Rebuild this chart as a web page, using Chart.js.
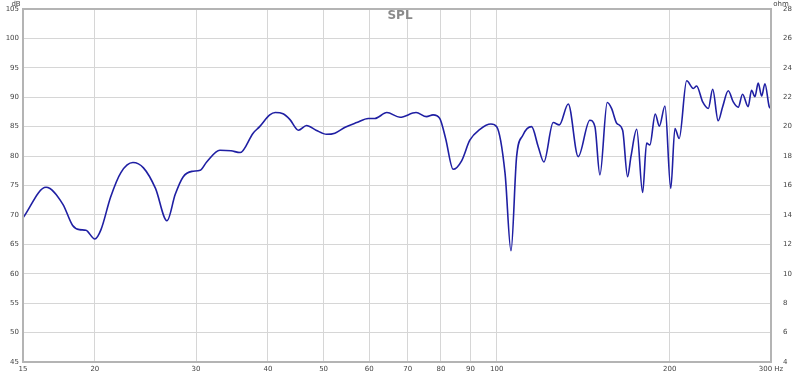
<!DOCTYPE html>
<html>
<head>
<meta charset="utf-8">
<title>SPL</title>
<script src="https://cdn.jsdelivr.net/npm/chart.js@4.4.1/dist/chart.umd.min.js"></script>
<style>
    body { margin: 0; background: #ffffff; }
    #wrap { width: 800px; height: 375px; position: relative; }
</style>
</head>
<body>
<div id="wrap"><canvas id="splChart"></canvas></div>
<script>
// Frequency points (Hz)
const freqs = [
    15, 16.45, 17.6, 18.3, 18.8, 19.3, 20.0, 20.5, 21.3, 22.2,
    23.3, 24.3, 25.5, 26.7, 27.6, 28.5, 29.5, 30.5, 31.3, 33.0,
    34.5, 35.8, 37.7, 38.7, 40.3, 41.2, 42.5, 43.7, 45.2, 46.7,
    48.5, 50.6, 52.3, 54.5, 57.1, 59.8, 61.4, 64.4, 67.9, 72.4,
    75.5, 77.5, 79.6, 81.5, 84.0, 86.9, 89.8, 93.5, 97.7, 100,
    103.4, 105.9, 108.3, 111, 115, 118.1, 120.8, 125.4, 128.5, 133.2,
    138.6, 145.2, 148.2, 151.2, 155.7, 158.4, 161.7, 165.6, 168.9, 171.2,
    175.2, 179.4, 182.3, 184.7, 188.7, 191.8, 196.2, 200.8, 204.2, 207.7,
    214, 219.8, 222.7, 228.2, 233.4, 237.5, 242.8, 247.2, 252.8, 257.9,
    263.1, 267.7, 273.8, 277.5, 281.3, 285, 289, 292.8, 297.9, 300
];

// SPL values (dB) matching freqs
const splValues = [
    69.5, 74.7, 71.8, 68.2, 67.5, 67.4, 65.9, 67.5, 73.0, 77.2,
    78.9, 78.0, 74.5, 69.0, 73.5, 76.5, 77.4, 77.6, 79.0, 81.0,
    80.9, 80.6, 83.9, 85.0, 87.0, 87.4, 87.2, 86.2, 84.4, 85.2,
    84.4, 83.7, 83.9, 84.9, 85.7, 86.4, 86.4, 87.4, 86.6, 87.4,
    86.7, 87.0, 86.4, 83.0, 77.75, 79.2, 82.7, 84.55, 85.45, 85.0,
    77.1, 63.9, 79.9, 83.5, 85.0, 81.6, 79.0, 85.7, 85.3, 88.85,
    79.9, 86.1, 85.0, 76.8, 89.1, 88.1, 85.6, 84.4, 76.5, 79.9,
    84.55, 73.8, 82.2, 81.9, 87.15, 85.1, 88.5, 74.5, 84.7, 83.0,
    92.8, 91.5, 91.9, 89.2, 88.1, 91.35, 86.0, 88.4, 91.1, 89.2,
    88.3, 90.5, 88.4, 91.2, 90.1, 92.4, 90.2, 92.3, 88.4, 88.1
];

// Axis tick labels
const xTicks = [15, 20, 30, 40, 50, 60, 70, 80, 90, 100, 200, 300];
const dbTicks = [45, 50, 55, 60, 65, 70, 75, 80, 85, 90, 95, 100, 105];
const ohmTicks = [4, 6, 8, 10, 12, 14, 16, 18, 20, 22, 24, 26, 28];

const tickFont = { family: 'DejaVu Sans', size: 7 };
const tickColor = '#444444';
const gridColor = '#d6d6d6';

// Draws the frame, title and unit labels
const decorPlugin = {
    id: 'decor',
    afterDraw(chart) {
        const ctx = chart.ctx;
        const a = chart.chartArea;
        ctx.save();
        ctx.strokeStyle = '#b4b4b4';
        ctx.lineWidth = 2;
        ctx.strokeRect(a.left, a.top, a.right - a.left, a.bottom - a.top);

        ctx.fillStyle = '#8a8a8a';
        ctx.font = 'bold 12px "DejaVu Sans"';
        ctx.textAlign = 'center';
        ctx.textBaseline = 'middle';
        ctx.fillText('SPL', 400, 16);

        ctx.fillStyle = tickColor;
        ctx.font = '7px "DejaVu Sans"';
        ctx.textBaseline = 'alphabetic';
        ctx.fillText('dB', 16, 6);
        ctx.fillText('ohm', 781, 6);
        ctx.restore();
    }
};

document.addEventListener('DOMContentLoaded', function() {
    const ctx = document.getElementById('splChart').getContext('2d');
    const points = freqs.map((f, i) => ({ x: f, y: splValues[i] }));

    new Chart(ctx, {
        type: 'line',
        data: {
            datasets: [{
                label: 'SPL',
                data: points,
                yAxisID: 'y',
                borderColor: '#1f1fa3',
                borderWidth: 1.6,
                pointRadius: 0,
                fill: false,
                cubicInterpolationMode: 'monotone'
            }]
        },
        options: {
            responsive: true,
            maintainAspectRatio: false,
            animation: false,
            layout: { padding: { top: 9, left: 0, right: 0, bottom: 0 } },
            plugins: {
                legend: { display: false },
                title: { display: false },
                tooltip: { enabled: false }
            },
            scales: {
                x: {
                    type: 'logarithmic',
                    position: 'bottom',
                    min: 15,
                    max: 300,
                    afterBuildTicks: scale => { scale.ticks = xTicks.map(v => ({ value: v })); },
                    afterFit: scale => { scale.height = 13; },
                    border: { display: false },
                    grid: { color: gridColor, drawTicks: false },
                    ticks: {
                        autoSkip: false,
                        maxRotation: 0,
                        padding: 3,
                        color: tickColor,
                        font: tickFont,
                        callback: v => (v === 300 ? '300 Hz' : String(v))
                    }
                },
                y: {
                    position: 'left',
                    min: 45,
                    max: 105,
                    afterBuildTicks: scale => { scale.ticks = dbTicks.map(v => ({ value: v })); },
                    afterFit: scale => { scale.width = 23; },
                    border: { display: false },
                    grid: { color: gridColor, drawTicks: false },
                    ticks: { padding: 4, color: tickColor, font: tickFont }
                },
                y2: {
                    position: 'right',
                    min: 4,
                    max: 28,
                    afterBuildTicks: scale => { scale.ticks = ohmTicks.map(v => ({ value: v })); },
                    afterFit: scale => { scale.width = 29; },
                    border: { display: false },
                    grid: { display: false },
                    ticks: { padding: 4, color: tickColor, font: tickFont }
                }
            }
        },
        plugins: [decorPlugin]
    });
});
</script>
</body>
</html>
